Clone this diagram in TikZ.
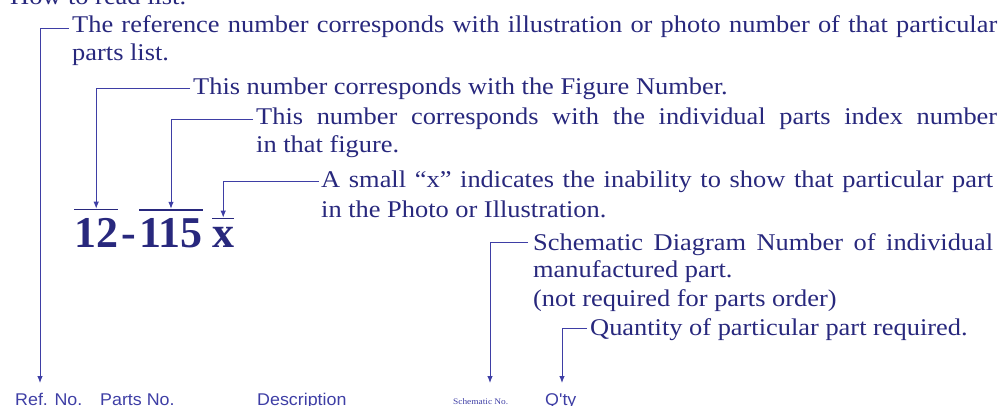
\documentclass[tikz,border=0pt]{standalone}
\usepackage{fontspec}
\setmainfont{Liberation Serif}[FakeStretch=1.1]
\newfontfamily\numfont{Liberation Serif}
\newfontfamily\lblfont{Liberation Sans}[FakeStretch=1.05]
\usetikzlibrary{arrows.meta}
\definecolor{txt}{RGB}{40,40,125}
\definecolor{ln}{RGB}{62,62,165}
\begin{document}
\begin{tikzpicture}[x=1pt,y=-1pt,
  txtl/.style={anchor=base west,inner sep=0pt,text=txt,font=\fontsize{24}{28.5}\selectfont},
  lbl/.style={anchor=base west,inner sep=0pt,text=ln,font=\lblfont\fontsize{17}{20}\selectfont},
  tiny/.style={anchor=base west,inner sep=0pt,text=ln,font=\fontsize{8.5}{10}\selectfont},
  big/.style={anchor=base west,inner sep=0pt,text=txt,font=\numfont\bfseries\fontsize{44}{50}\selectfont},
  conn/.style={draw=ln,line width=0.9pt},
  arr/.style={conn,-{Latex[length=7pt,width=5.5pt]}},
  bar/.style={draw=txt,line width=1.6pt}]
\useasboundingbox (0,0) rectangle (998,406);
% texts
\node[txtl] (t0) at (10,5) {How to read list.};
\node[txtl] (t1a) at (72,33) {\makebox[925pt][s]{The reference number corresponds with illustration or photo number of that particular}};
\node[txtl] (t1b) at (72,61) {parts list.};
\node[txtl] (t2) at (193,95) {This number corresponds with the Figure Number.};
\node[txtl] (t3a) at (256,125) {\makebox[741pt][s]{This number corresponds with the individual parts index number}};
\node[txtl] (t3b) at (256,153) {in that figure.};
\node[txtl] (t4a) at (321,188) {\makebox[672pt][s]{A small ``x'' indicates the inability to show that particular part}};
\node[txtl] (t4b) at (321,217) {in the Photo or Illustration.};
\node[txtl] (t5a) at (533,250) {\makebox[460pt][s]{Schematic Diagram Number of individual}};
\node[txtl] (t5b) at (533,277) {manufactured part.};
\node[txtl] (t5c) at (533,306) {(not required for parts order)};
\node[txtl] (t6) at (590,335) {Quantity of particular part required.};
% big number
\node[big] (n12) at (74,247) {12};
\node[big] (hy) at (121,247) {-};
\node[big] (n115) at (139,247) {115};
\node[big] (nx) at (212,247) {x};
\draw[bar] ([yshift=8pt]n12.north west) -- ([yshift=8pt]n12.north east);
\draw[bar] ([yshift=8pt]n115.north west) -- ([yshift=8pt]n115.north east);
\draw[bar] ([yshift=8pt]nx.north west) -- ([yshift=8pt]nx.north east);
% bottom labels
\node[lbl] (ref) at (15,405) {Ref. No.};
\node[lbl] (parts) at (100,405) {Parts No.};
\node[lbl] (desc) at (257,405) {Description};
\node[tiny] (sch) at (453,404) {Schematic No.};
\node[lbl] (qty) at (545,405) {Q'ty};
% arrow ends
\coordinate (c1) at (40,383);
\coordinate (c5) at (490,383);
\coordinate (c6) at (562,383);
% connectors
\draw[arr] ([shift={(-3pt,5pt)}]t1a.base west) -| (c1);
\draw[arr] ([shift={(-3pt,7pt)}]t2.base west) -| ([yshift=9pt]n12.north);
\draw[arr] ([shift={(-3pt,6pt)}]t3a.base west) -| ([yshift=9pt]n115.north);
\draw[arr] ([shift={(-2pt,7pt)}]t4a.base west) -| ([yshift=9pt]nx.north);
\draw[arr] ([shift={(-5pt,8pt)}]t5a.base west) -| (c5);
\draw[arr] ([shift={(-3pt,7pt)}]t6.base west) -| (c6);
\end{tikzpicture}
\end{document}
